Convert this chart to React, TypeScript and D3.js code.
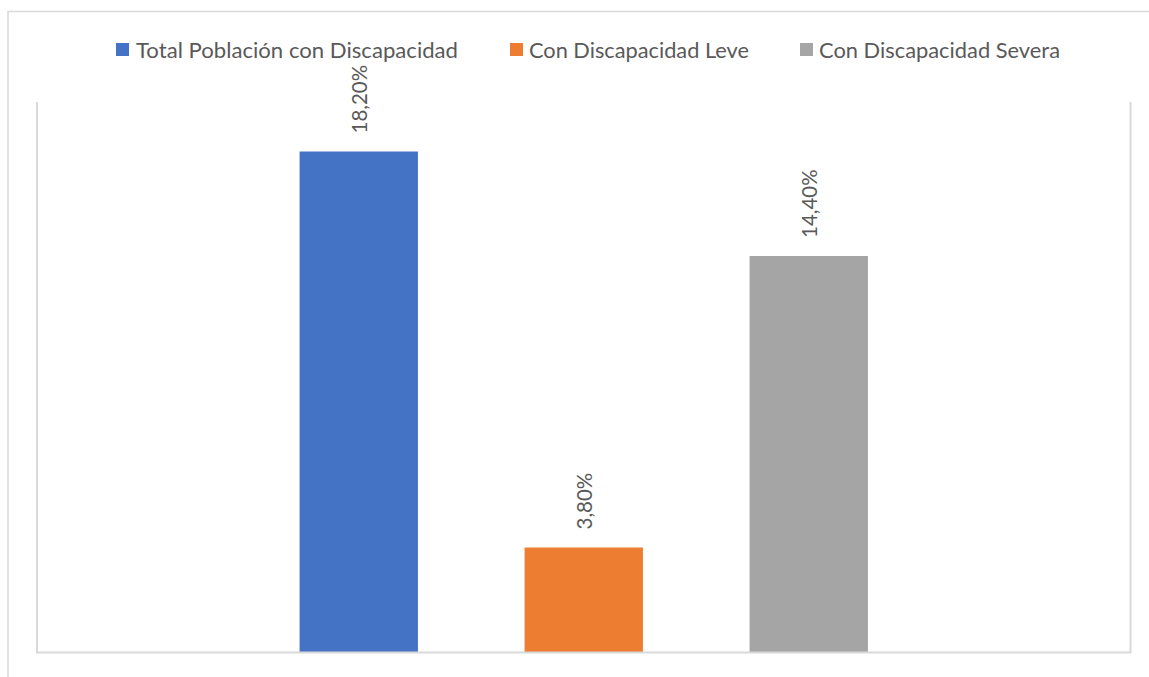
import React from "react";
import * as d3 from "d3";

// Share of population with disability, by severity (percent)
const seriesNames = [
  "Total Población con Discapacidad",
  "Con Discapacidad Leve",
  "Con Discapacidad Severa",
];
const seriesValues = [18.2, 3.8, 14.4];
const seriesColors = ["#4472c4", "#ed7d31", "#a5a5a5"];
const categories = [""];
const yDomainMax = 20;

const W = 1149;
const H = 677;
const plot = { left: 37, right: 1130.5, top: 102, bottom: 652 };
const frameColor = "#d9d9d9";
const textColor = "#595959";
const fontFamily = "Lato, 'Open Sans', sans-serif";

// legend layout: swatch x, text x, text width
const legendItems = [
  { sx: 116, tx: 136, tw: 322 },
  { sx: 510, tx: 529, tw: 220 },
  { sx: 800, tx: 819, tw: 241 },
];

const fmt = (v: number) => v.toFixed(2).replace(".", ",") + "%";

export default function App() {
  const x0 = d3
    .scaleBand<string>()
    .domain(categories)
    .range([plot.left, plot.right])
    .paddingInner(0)
    .paddingOuter(0.462);
  const x1 = d3
    .scaleBand<string>()
    .domain(seriesNames)
    .range([0, x0.bandwidth()])
    .paddingInner(0.474)
    .paddingOuter(0);
  const y = d3.scaleLinear().domain([0, yDomainMax]).range([plot.bottom, plot.top]);

  return (
    <svg
      width={W}
      height={H}
      style={{ position: "fixed", left: 0, top: 0, background: "#fff" }}
      fontFamily={fontFamily}
    >
      <rect x={0} y={0} width={W} height={H} fill="#fff" />
      {/* chart area border */}
      <rect
        x={8}
        y={11.5}
        width={W + 10}
        height={H + 10}
        fill="none"
        stroke={frameColor}
        strokeWidth={1.5}
      />

      {/* legend */}
      {seriesNames.map((name, i) => (
        <g key={name}>
          <rect
            x={legendItems[i].sx}
            y={43}
            width={13}
            height={13}
            fill={seriesColors[i]}
          />
          <text
            x={legendItems[i].tx}
            y={57.5}
            fontSize={22}
            fill={textColor}
            textLength={legendItems[i].tw}
            lengthAdjust="spacingAndGlyphs"
          >
            {name}
          </text>
        </g>
      ))}

      {/* plot frame */}
      <line x1={plot.left} x2={plot.left} y1={y(yDomainMax)} y2={y(0)} stroke={frameColor} strokeWidth={2} />
      <line x1={plot.right} x2={plot.right} y1={y(yDomainMax)} y2={y(0)} stroke={frameColor} strokeWidth={2} />

      {/* bars */}
      {categories.map((cat) => (
        <g key={cat} transform={`translate(${x0(cat)},0)`}>
          {seriesNames.map((name, i) => {
            const v = seriesValues[i];
            const bx = x1(name)!;
            const cx = bx + x1.bandwidth() / 2;
            return (
              <g key={name}>
                <rect
                  x={bx}
                  y={y(v)}
                  width={x1.bandwidth()}
                  height={y(0) - y(v)}
                  fill={seriesColors[i]}
                />
                <text
                  transform={`translate(${cx},${y(v) - 18}) rotate(-90)`}
                  dominantBaseline="central"
                  fontSize={20.5}
                  fill={textColor}
                >
                  {fmt(v)}
                </text>
              </g>
            );
          })}
        </g>
      ))}

      {/* baseline */}
      <line x1={plot.left - 1} x2={plot.right + 1} y1={y(0) + 0.5} y2={y(0) + 0.5} stroke={frameColor} strokeWidth={2} />
    </svg>
  );
}
